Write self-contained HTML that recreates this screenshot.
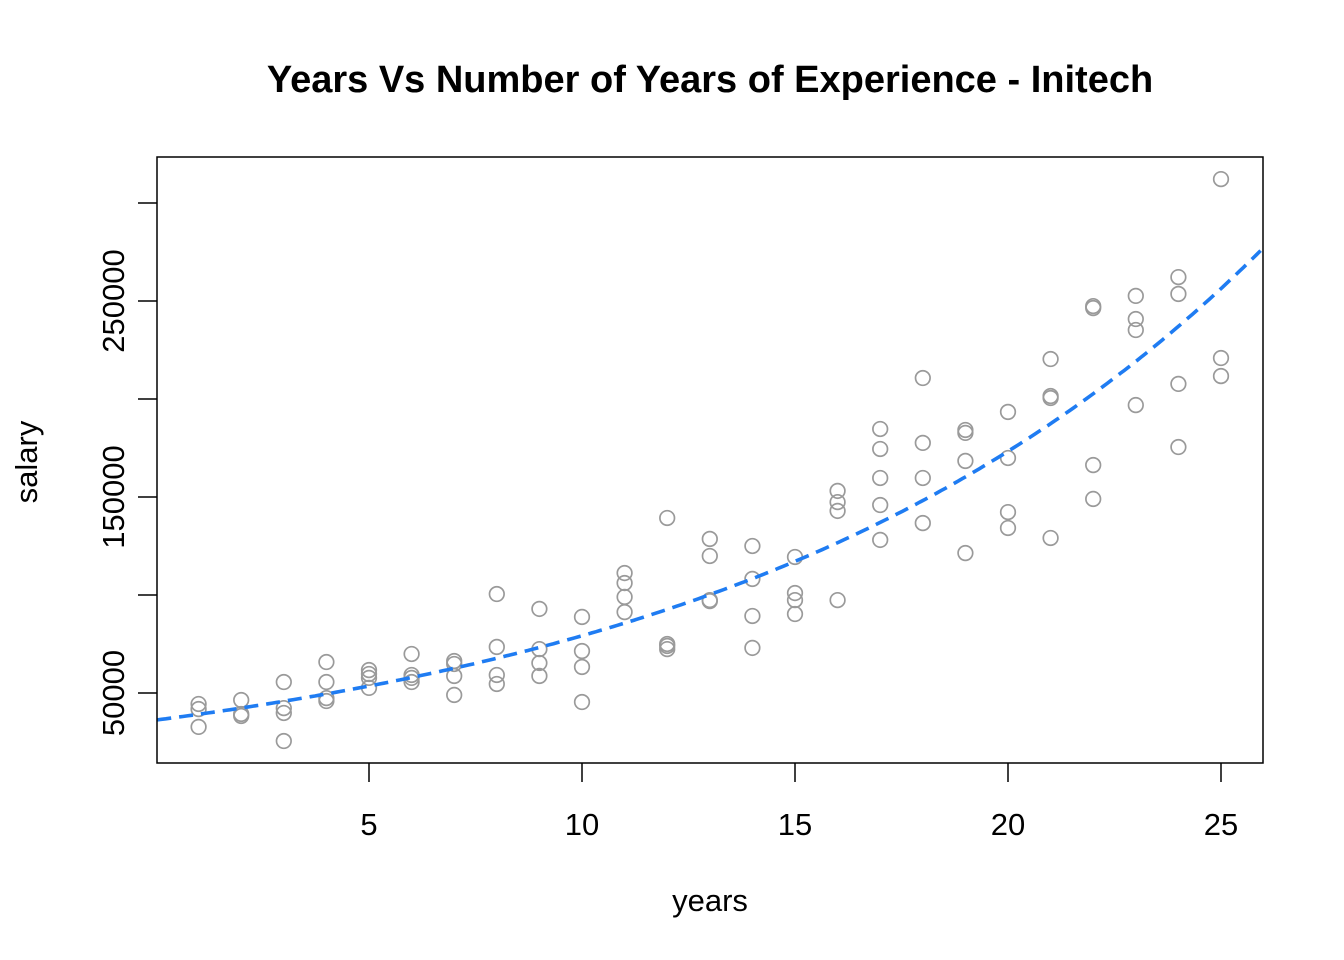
<!DOCTYPE html>
<html><head><meta charset="utf-8"><style>
body{margin:0;background:#fff}
svg{display:block;font-family:"Liberation Sans",Arial,sans-serif}
</style></head><body>
<svg id="chart" width="1344" height="960" xmlns="http://www.w3.org/2000/svg">
<rect width="1344" height="960" fill="#fff"/>
<text x="710" y="92" text-anchor="middle" font-size="38" font-weight="bold">Years Vs Number of Years of Experience - Initech</text>
<text x="710" y="911" text-anchor="middle" font-size="31">years</text>
<text transform="translate(37,462) rotate(-90)" text-anchor="middle" font-size="31">salary</text>
<g id="ticks"></g>
<g id="marks"></g>
<rect x="157" y="157" width="1106" height="606" fill="none" stroke="#000" stroke-width="1.5"/>
</svg>
<script>
const years = [1,1,1,2,2,2,3,3,3,3,4,4,4,4,5,5,5,5,6,6,6,6,7,7,7,7,8,8,8,8,9,9,9,9,10,10,10,10,11,11,11,11,12,12,12,12,13,13,13,13,14,14,14,14,15,15,15,15,16,16,16,16,17,17,17,17,17,18,18,18,18,19,19,19,19,20,20,20,20,21,21,21,21,22,22,22,22,23,23,23,23,24,24,24,24,25,25,25];
const salary = [44400,41800,32700,46400,39300,38300,55600,42300,39800,25500,65800,55600,47400,45900,61700,59700,57700,52600,69900,59200,57700,55600,66300,64800,58700,49000,100500,73500,59200,54600,92900,72400,65300,58700,88800,71400,63300,45400,111200,106100,99000,91300,139300,75000,74000,72400,128600,119900,97400,96900,125000,108200,89300,73000,119400,101000,97400,90300,153100,147400,142900,97400,184700,174500,159700,145900,128100,210700,177600,159700,136700,184200,182700,168400,121400,193400,169900,142300,134200,220400,201500,200500,129100,247400,246400,166300,149000,252600,240800,235200,196900,262200,253600,207700,175500,312200,220900,211700];
const fitCoef = [36200, 0.0783];
const xTicks = [5,10,15,20,25];
const yTicks = [50000,100000,150000,200000,250000,300000];
const yTickLabels = ["50000","","150000","","250000",""];

const X = v => 156 + 42.6*v;
const Y = v => 791 - 0.00196*v;
const NS = "http://www.w3.org/2000/svg";
const ticks = document.getElementById('ticks');
const marks = document.getElementById('marks');
function mk(tag, attrs, parent){const e=document.createElementNS(NS,tag);for(const k in attrs)e.setAttribute(k,attrs[k]);parent.appendChild(e);return e;}

xTicks.forEach(t=>{
  const l=mk('line',{x1:X(t),x2:X(t),y1:763,y2:782,stroke:'#000','stroke-width':1.5},ticks);
  
  
  const tx=mk('text',{x:X(t),y:835,'text-anchor':'middle','font-size':31},ticks);
  tx.textContent=t;
  
  
});
yTicks.forEach((t,i)=>{
  const l=mk('line',{x1:138,x2:157,y1:Y(t),y2:Y(t),stroke:'#000','stroke-width':1.5},ticks);
  
  
  if(yTickLabels[i]){
    const tx=mk('text',{transform:`translate(124,${Y(t)}) rotate(-90)`,'text-anchor':'middle','font-size':31},ticks);
    tx.textContent=yTickLabels[i];
    
    
  }
});
years.forEach((yr,i)=>{
  const c=mk('circle',{cx:X(yr),cy:Y(salary[i]),r:7.3,fill:'none',stroke:'#9a9a9a','stroke-width':1.7},marks);
  
  
});
let d='';
for(let v=0.03; v<=26.0; v+=0.1){
  const px=Math.max(157,X(v)), py=Y(fitCoef[0]*Math.exp(fitCoef[1]*v));
  d+=(d?'L':'M')+px.toFixed(1)+','+py.toFixed(1);
}
const p=mk('path',{d:d,fill:'none',stroke:'#1f7cf2','stroke-width':3.6,'stroke-dasharray':'14 8'},marks);


</script>
</body></html>
